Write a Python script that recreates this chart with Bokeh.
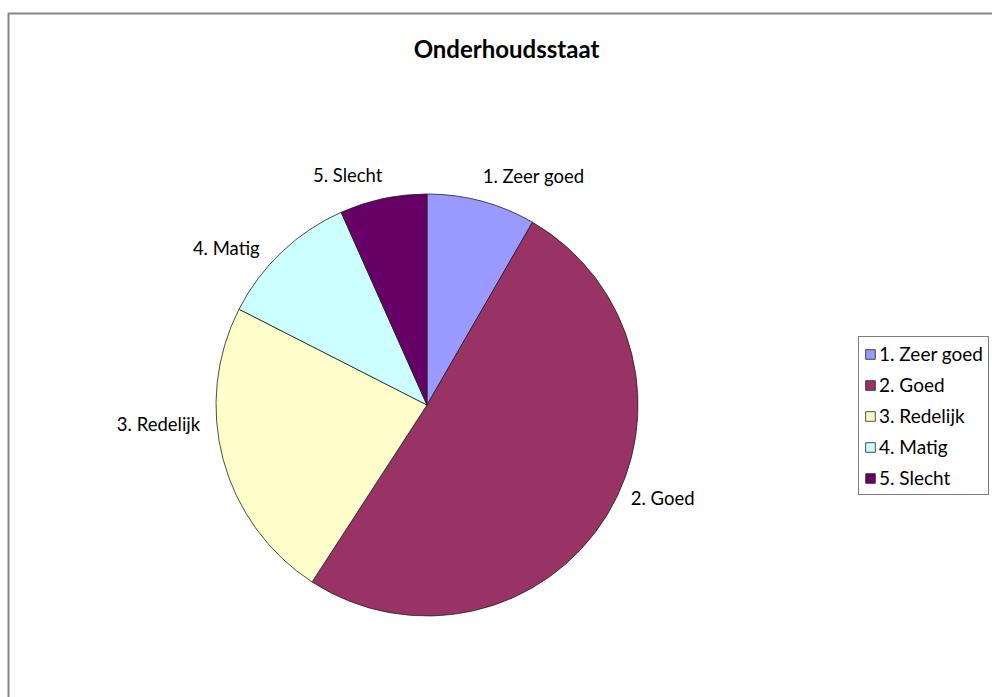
import math
from bokeh.plotting import figure
from bokeh.models import Range1d, Legend, LegendItem, Label, BoxAnnotation, ColumnDataSource
from bokeh.core.properties import value
from bokeh.embed import file_html
from bokeh.resources import INLINE

# ---- data ----
categories = ["1. Zeer goed", "2. Goed", "3. Redelijk", "4. Matig", "5. Slecht"]
counts = [10, 61, 28, 13, 8]
colors = ["#9999FF", "#993366", "#FFFFCC", "#CCFFFF", "#660066"]
title_text = "Onderhoudsstaat"

# ---- layout params ----
W, H = 992, 697
CX, CY, R = 426.5, 292.5, 211
FONT = "Lato"
LABEL_SIZE = 18.5
LEGEND_SIZE = 19
label_nudge_deg = [10, -10, 11, -8.5, -7]   # label placement tweaks

total = float(sum(counts))
starts, ends, mids = [], [], []
acc = 0.0
for c in counts:
    a0 = acc / total * 2 * math.pi
    acc += c
    a1 = acc / total * 2 * math.pi
    starts.append(math.pi / 2 - a0)
    ends.append(math.pi / 2 - a1)
    mids.append((a0 + a1) / 2)

p = figure(width=W, height=H, output_backend="svg", toolbar_location=None,
           x_range=Range1d(0, W), y_range=Range1d(0, H), min_border=0,
           x_axis_location=None, y_axis_location=None)
p.grid.visible = False
p.outline_line_color = None
p.background_fill_color = "white"
p.border_fill_color = "white"

# chart area border (cut off at right and bottom like the reference)
p.add_layout(BoxAnnotation(left=8, right=W + 100, top=H - 13, bottom=-100,
                           fill_color=None, fill_alpha=0,
                           line_color="#868686", line_alpha=1.0, line_width=2))

src = ColumnDataSource(dict(cat=categories, start=starts, end=ends, color=colors))
r = p.wedge(x=CX, y=CY, radius=R, start_angle="start", end_angle="end",
            direction="clock", fill_color="color", line_color="#222222",
            line_width=0.8, source=src)

# data labels
lx, ly = [], []
for i, cat in enumerate(categories):
    th = mids[i] + math.radians(label_nudge_deg[i])
    w = len(cat) * 8.3
    h = 18
    d = R + 12 + 0.5 * abs(w * math.sin(th)) + 0.5 * abs(h * math.cos(th))
    lx.append(CX + d * math.sin(th))
    ly.append(CY + d * math.cos(th))
p.text(x=lx, y=ly, text=categories, text_align="center", text_baseline="middle",
       text_font=value(FONT), text_font_size=f"{LABEL_SIZE}px", text_color="#000000")

# title
p.add_layout(Label(x=506, y=H - 48, text=title_text, text_align="center",
                   text_baseline="alphabetic", text_font=FONT,
                   text_font_size="24px", text_font_style="bold", text_color="#000000"))

legend = Legend(items=[LegendItem(label=c, renderers=[r], index=i) for i, c in enumerate(categories)],
                location=(858, 202), orientation="vertical",
                label_text_font=FONT, label_text_font_size=f"{LEGEND_SIZE}px",
                label_text_color="#000000",
                glyph_width=12, glyph_height=12, label_height=20, label_standoff=3,
                spacing=8, padding=5, margin=0,
                border_line_color="#000000", border_line_width=1,
                background_fill_color="white", background_fill_alpha=1)
p.add_layout(legend, "center")

open("out.html", "w").write(file_html(p, INLINE))
